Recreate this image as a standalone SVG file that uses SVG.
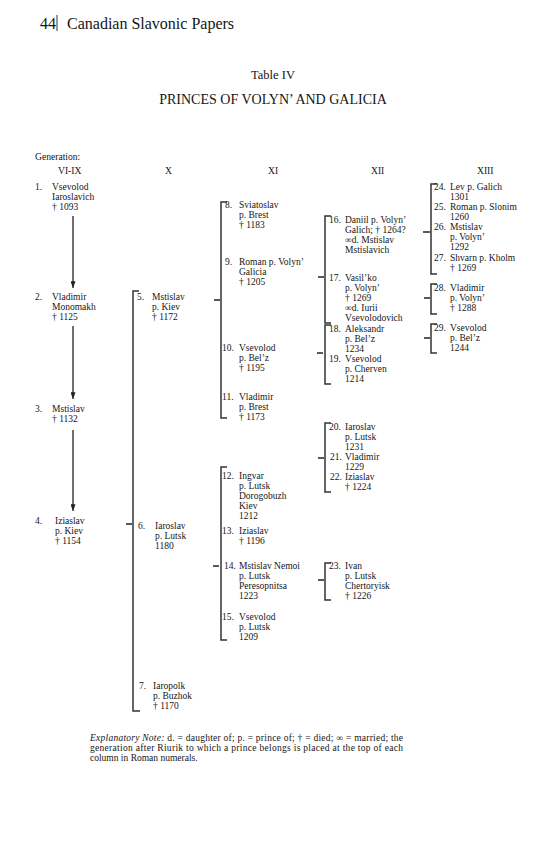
<svg xmlns="http://www.w3.org/2000/svg" width="538" height="845" viewBox="0 0 538 845">
<style>
text{font-family:"Liberation Serif","Times New Roman",serif;fill:#151515}
.t{font-size:9.5px}
.h{font-size:16px}
.c{font-size:9.6px}
.br{fill:none;stroke:#333;stroke-width:1.5}
.tk{stroke:#222;stroke-width:1.5}
.ar{stroke:#222;stroke-width:1.3}
</style>
<defs>
<marker id="down" viewBox="0 0 6 8" refX="3" refY="8" markerWidth="5" markerHeight="7" markerUnits="userSpaceOnUse">
<path d="M0,0 L6,0 L3,8 Z" fill="#222"/>
</marker>
</defs>
<rect width="538" height="845" fill="#fff"/>
<g id="header">
<text class="h" x="40" y="29">44</text>
<line x1="57" y1="15" x2="57" y2="31" stroke="#333" stroke-width="1"/>
<text class="h" x="67" y="29">Canadian Slavonic Papers</text>
<text x="273" y="79" font-size="12.5" text-anchor="middle">Table IV</text>
<text x="273" y="104" font-size="14" text-anchor="middle">PRINCES OF VOLYN’ AND GALICIA</text>
<text class="c" x="35" y="160">Generation:</text>
<text class="c" x="58" y="174">VI-IX</text>
<text class="c" x="165" y="174">X</text>
<text class="c" x="268" y="174">XI</text>
<text class="c" x="371" y="174">XII</text>
<text class="c" x="477" y="174">XIII</text>
</g>
<g id="connectors">
<line class="ar" x1="73" y1="216" x2="73" y2="288" marker-end="url(#down)"/>
<line class="ar" x1="73" y1="326" x2="73" y2="399" marker-end="url(#down)"/>
<line class="ar" x1="73" y1="430" x2="73" y2="511" marker-end="url(#down)"/>
<path class="br" d="M139,291 H133 V711 H140"/><line class="tk" x1="126" y1="524" x2="132" y2="524"/>
<path class="br" d="M227,202 H221 V418 H227"/><line class="tk" x1="214" y1="300" x2="220" y2="300"/>
<path class="br" d="M227,467 H221 V640 H227"/><line class="tk" x1="213" y1="566" x2="219" y2="566"/>
<path class="br" d="M331,216 H325 V323 H331"/><line class="tk" x1="318" y1="277" x2="324" y2="277"/>
<path class="br" d="M331,325 H325 V384 H331"/><line class="tk" x1="317" y1="353" x2="323" y2="353"/>
<path class="br" d="M331,423 H325 V492 H331"/><line class="tk" x1="318" y1="458" x2="324" y2="458"/>
<path class="br" d="M331,563 H325 V600 H331"/><line class="tk" x1="318" y1="580" x2="324" y2="580"/>
<path class="br" d="M437,184 H431 V274 H437"/><line class="tk" x1="423" y1="232" x2="430" y2="232"/>
<path class="br" d="M437,284 H431 V314 H437"/><line class="tk" x1="424" y1="298" x2="430" y2="298"/>
<path class="br" d="M437,324 H431 V353 H437"/><line class="tk" x1="424" y1="338" x2="430" y2="338"/>
</g>
<g id="n1" class="t"><text x="35" y="190">1.</text><text x="52" y="190">Vsevolod<tspan x="52" dy="10">Iaroslavich</tspan><tspan x="52" dy="10">† 1093</tspan></text></g>
<g id="n2" class="t"><text x="35" y="300">2.</text><text x="52" y="300">Vladimir<tspan x="52" dy="10">Monomakh</tspan><tspan x="52" dy="10">† 1125</tspan></text></g>
<g id="n3" class="t"><text x="35" y="412">3.</text><text x="52" y="412">Mstislav<tspan x="52" dy="10">† 1132</tspan></text></g>
<g id="n4" class="t"><text x="35" y="524">4.</text><text x="55" y="524">Iziaslav<tspan x="55" dy="10">p. Kiev</tspan><tspan x="55" dy="10">† 1154</tspan></text></g>
<g id="n5" class="t"><text x="137" y="300">5.</text><text x="152" y="300">Mstislav<tspan x="152" dy="10">p. Kiev</tspan><tspan x="152" dy="10">† 1172</tspan></text></g>
<g id="n6" class="t"><text x="138" y="529">6.</text><text x="155" y="529">Iaroslav<tspan x="155" dy="10">p. Lutsk</tspan><tspan x="155" dy="10">1180</tspan></text></g>
<g id="n7" class="t"><text x="139" y="689">7.</text><text x="153" y="689">Iaropolk<tspan x="153" dy="10">p. Buzhok</tspan><tspan x="153" dy="10">† 1170</tspan></text></g>
<g id="n8" class="t"><text x="225" y="208">8.</text><text x="239" y="208">Sviatoslav<tspan x="239" dy="10">p. Brest</tspan><tspan x="239" dy="10">† 1183</tspan></text></g>
<g id="n9" class="t"><text x="225" y="265">9.</text><text x="239" y="265">Roman p. Volyn’<tspan x="239" dy="10">Galicia</tspan><tspan x="239" dy="10">† 1205</tspan></text></g>
<g id="n10" class="t"><text x="222" y="351">10.</text><text x="239" y="351">Vsevolod<tspan x="239" dy="10">p. Bel’z</tspan><tspan x="239" dy="10">† 1195</tspan></text></g>
<g id="n11" class="t"><text x="222" y="400">11.</text><text x="239" y="400">Vladimir<tspan x="239" dy="10">p. Brest</tspan><tspan x="239" dy="10">† 1173</tspan></text></g>
<g id="n12" class="t"><text x="222" y="479">12.</text><text x="239" y="479">Ingvar<tspan x="239" dy="10">p. Lutsk</tspan><tspan x="239" dy="10">Dorogobuzh</tspan><tspan x="239" dy="10">Kiev</tspan><tspan x="239" dy="10">1212</tspan></text></g>
<g id="n13" class="t"><text x="222" y="534">13.</text><text x="239" y="534">Iziaslav<tspan x="239" dy="10">† 1196</tspan></text></g>
<g id="n14" class="t"><text x="224" y="569">14.</text><text x="239" y="569">Mstislav Nemoi<tspan x="239" dy="10">p. Lutsk</tspan><tspan x="239" dy="10">Peresopnitsa</tspan><tspan x="239" dy="10">1223</tspan></text></g>
<g id="n15" class="t"><text x="222" y="620">15.</text><text x="239" y="620">Vsevolod<tspan x="239" dy="10">p. Lutsk</tspan><tspan x="239" dy="10">1209</tspan></text></g>
<g id="n16" class="t"><text x="329" y="223">16.</text><text x="345" y="223">Daniil p. Volyn’<tspan x="345" dy="10">Galich; † 1264?</tspan><tspan x="345" dy="10">∞d. Mstislav</tspan><tspan x="345" dy="10">Mstislavich</tspan></text></g>
<g id="n17" class="t"><text x="329" y="281">17.</text><text x="345" y="281">Vasil’ko<tspan x="345" dy="10">p. Volyn’</tspan><tspan x="345" dy="10">† 1269</tspan><tspan x="345" dy="10">∞d. Iurii</tspan><tspan x="345" dy="10">Vsevolodovich</tspan></text></g>
<g id="n18" class="t"><text x="329" y="332">18.</text><text x="345" y="332">Aleksandr<tspan x="345" dy="10">p. Bel’z</tspan><tspan x="345" dy="10">1234</tspan></text></g>
<g id="n19" class="t"><text x="329" y="362">19.</text><text x="345" y="362">Vsevolod<tspan x="345" dy="10">p. Cherven</tspan><tspan x="345" dy="10">1214</tspan></text></g>
<g id="n20" class="t"><text x="329" y="430">20.</text><text x="345" y="430">Iaroslav<tspan x="345" dy="10">p. Lutsk</tspan><tspan x="345" dy="10">1231</tspan></text></g>
<g id="n21" class="t"><text x="330" y="460">21.</text><text x="345" y="460">Vladimir<tspan x="345" dy="10">1229</tspan></text></g>
<g id="n22" class="t"><text x="330" y="480">22.</text><text x="345" y="480">Iziaslav<tspan x="345" dy="10">† 1224</tspan></text></g>
<g id="n23" class="t"><text x="329" y="569">23.</text><text x="345" y="569">Ivan<tspan x="345" dy="10">p. Lutsk</tspan><tspan x="345" dy="10">Chertoryisk</tspan><tspan x="345" dy="10">† 1226</tspan></text></g>
<g id="n24" class="t"><text x="434" y="190">24.</text><text x="450" y="190">Lev p. Galich<tspan x="450" dy="10">1301</tspan></text></g>
<g id="n25" class="t"><text x="434" y="210">25.</text><text x="450" y="210">Roman p. Slonim<tspan x="450" dy="10">1260</tspan></text></g>
<g id="n26" class="t"><text x="434" y="230">26.</text><text x="450" y="230">Mstislav<tspan x="450" dy="10">p. Volyn’</tspan><tspan x="450" dy="10">1292</tspan></text></g>
<g id="n27" class="t"><text x="434" y="261">27.</text><text x="450" y="261">Shvarn p. Kholm<tspan x="450" dy="10">† 1269</tspan></text></g>
<g id="n28" class="t"><text x="434" y="291">28.</text><text x="450" y="291">Vladimir<tspan x="450" dy="10">p. Volyn’</tspan><tspan x="450" dy="10">† 1288</tspan></text></g>
<g id="n29" class="t"><text x="434" y="331">29.</text><text x="450" y="331">Vsevolod<tspan x="450" dy="10">p. Bel’z</tspan><tspan x="450" dy="10">1244</tspan></text></g>
<g id="note" class="t">
<text x="90" y="741" textLength="313" lengthAdjust="spacing"><tspan font-style="italic">Explanatory Note:</tspan> d. = daughter of; p. = prince of; † = died; ∞ = married; the</text>
<text x="90" y="751" textLength="313" lengthAdjust="spacing">generation after Riurik to which a prince belongs is placed at the top of each</text>
<text x="90" y="761">column in Roman numerals.</text>
</g>
</svg>
